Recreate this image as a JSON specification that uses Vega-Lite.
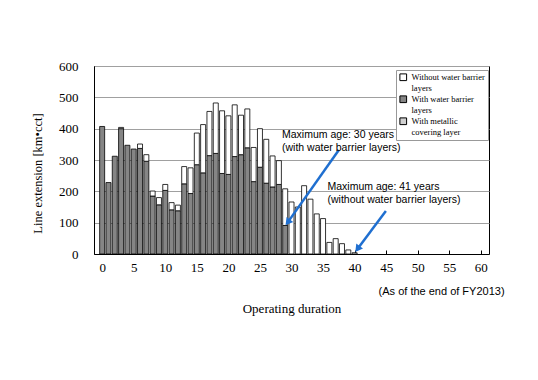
{
  "$schema": "https://vega.github.io/schema/vega-lite/v6.json",
  "width": 395,
  "height": 188,
  "autosize": "none",
  "padding": {"left": 94, "top": 66, "right": 49, "bottom": 126},
  "background": "white",
  "config": {
    "view": {"stroke": "black", "strokeWidth": 1},
    "axis": {"domainColor": "black", "labelColor": "black", "titleColor": "black", "titleFontWeight": "normal", "labelOverlap": false},
    "axisX": {
      "values": [0, 5, 10, 15, 20, 25, 30, 35, 40, 45, 50, 55, 60],
      "grid": false, "tickSize": -4, "tickColor": "black",
      "labelFont": "Liberation Serif", "labelFontSize": 13, "labelPadding": 11,
      "titleFont": "Liberation Serif", "titleFontSize": 13, "titlePadding": 28
    },
    "axisY": {
      "values": [0, 100, 200, 300, 400, 500, 600],
      "grid": true, "gridColor": "#a0a0a0", "ticks": false,
      "labelFont": "Liberation Serif", "labelFontSize": 13, "labelPadding": 16,
      "titleFont": "Liberation Serif", "titleFontSize": 12.5, "titlePadding": 14, "titleY": 107
    }
  },
  "datasets": {
    "bars": [
      {"age": 0, "type": "With water barrier layers", "km": 407},
      {"age": 1, "type": "With water barrier layers", "km": 228},
      {"age": 2, "type": "With water barrier layers", "km": 312},
      {"age": 3, "type": "With water barrier layers", "km": 400},
      {"age": 3, "type": "Without water barrier layers", "km": 4},
      {"age": 4, "type": "With water barrier layers", "km": 347},
      {"age": 5, "type": "With water barrier layers", "km": 335},
      {"age": 6, "type": "With water barrier layers", "km": 337},
      {"age": 6, "type": "Without water barrier layers", "km": 14},
      {"age": 7, "type": "With water barrier layers", "km": 296},
      {"age": 7, "type": "Without water barrier layers", "km": 21},
      {"age": 8, "type": "With water barrier layers", "km": 185},
      {"age": 8, "type": "Without water barrier layers", "km": 16},
      {"age": 9, "type": "With water barrier layers", "km": 157},
      {"age": 9, "type": "Without water barrier layers", "km": 23},
      {"age": 10, "type": "With water barrier layers", "km": 203},
      {"age": 10, "type": "Without water barrier layers", "km": 19},
      {"age": 11, "type": "With water barrier layers", "km": 141},
      {"age": 11, "type": "Without water barrier layers", "km": 23},
      {"age": 12, "type": "With water barrier layers", "km": 138},
      {"age": 12, "type": "Without water barrier layers", "km": 18},
      {"age": 13, "type": "With water barrier layers", "km": 224},
      {"age": 13, "type": "Without water barrier layers", "km": 55},
      {"age": 14, "type": "With water barrier layers", "km": 193},
      {"age": 14, "type": "Without water barrier layers", "km": 82},
      {"age": 15, "type": "With water barrier layers", "km": 285},
      {"age": 15, "type": "Without water barrier layers", "km": 101},
      {"age": 16, "type": "With water barrier layers", "km": 259},
      {"age": 16, "type": "Without water barrier layers", "km": 154},
      {"age": 17, "type": "With water barrier layers", "km": 314},
      {"age": 17, "type": "Without water barrier layers", "km": 141},
      {"age": 18, "type": "With water barrier layers", "km": 321},
      {"age": 18, "type": "Without water barrier layers", "km": 161},
      {"age": 19, "type": "With water barrier layers", "km": 257},
      {"age": 19, "type": "Without water barrier layers", "km": 200},
      {"age": 20, "type": "With water barrier layers", "km": 254},
      {"age": 20, "type": "Without water barrier layers", "km": 187},
      {"age": 21, "type": "With water barrier layers", "km": 311},
      {"age": 21, "type": "Without water barrier layers", "km": 165},
      {"age": 22, "type": "With water barrier layers", "km": 317},
      {"age": 22, "type": "Without water barrier layers", "km": 126},
      {"age": 23, "type": "With water barrier layers", "km": 339},
      {"age": 23, "type": "Without water barrier layers", "km": 124},
      {"age": 24, "type": "With water barrier layers", "km": 231},
      {"age": 24, "type": "Without water barrier layers", "km": 109},
      {"age": 25, "type": "With water barrier layers", "km": 277},
      {"age": 25, "type": "Without water barrier layers", "km": 123},
      {"age": 26, "type": "With water barrier layers", "km": 226},
      {"age": 26, "type": "Without water barrier layers", "km": 140},
      {"age": 27, "type": "With water barrier layers", "km": 214},
      {"age": 27, "type": "Without water barrier layers", "km": 99},
      {"age": 28, "type": "With water barrier layers", "km": 222},
      {"age": 28, "type": "Without water barrier layers", "km": 76},
      {"age": 29, "type": "With water barrier layers", "km": 91},
      {"age": 29, "type": "Without water barrier layers", "km": 117},
      {"age": 30, "type": "Without water barrier layers", "km": 166},
      {"age": 31, "type": "Without water barrier layers", "km": 150},
      {"age": 32, "type": "Without water barrier layers", "km": 218},
      {"age": 33, "type": "Without water barrier layers", "km": 175},
      {"age": 34, "type": "Without water barrier layers", "km": 128},
      {"age": 35, "type": "Without water barrier layers", "km": 113},
      {"age": 36, "type": "Without water barrier layers", "km": 37},
      {"age": 37, "type": "Without water barrier layers", "km": 49},
      {"age": 38, "type": "Without water barrier layers", "km": 33},
      {"age": 39, "type": "Without water barrier layers", "km": 13},
      {"age": 40, "type": "Without water barrier layers", "km": 4}
    ],
    "notes": [
      {"x": 28.5, "y": 381, "label": "Maximum age: 30 years"},
      {"x": 28.5, "y": 337, "label": "(with water barrier layers)"},
      {"x": 35.7, "y": 213, "label": "Maximum age: 41 years"},
      {"x": 35.7, "y": 173, "label": "(without water barrier layers)"}
    ],
    "footnote": [
      {"x": 43.8, "y": -122, "label": "(As of the end of FY2013)"}
    ],
    "arrows": [
      {"x0": 37.5, "y0": 332, "x1": 29.4, "y1": 101},
      {"x0": 44.95, "y0": 137, "x1": 40.45, "y1": 16}
    ]
  },
  "layer": [
    {
      "data": {"name": "bars"},
      "mark": {"type": "bar", "size": 5, "stroke": "black", "strokeWidth": 0.8},
      "encoding": {
        "x": {
          "field": "age", "type": "quantitative", "title": "Operating duration",
          "scale": {"domain": [-0.5, 60.5], "nice": false, "zero": false}
        },
        "y": {
          "field": "km", "type": "quantitative", "stack": "zero", "title": "Line extension [km•cct]",
          "scale": {"domain": [0, 600], "nice": false}
        },
        "order": {"field": "type", "sort": "ascending"},
        "color": {
          "field": "type", "type": "nominal",
          "scale": {
            "domain": ["Without water barrier layers", "With water barrier layers", "With metallic covering layer"],
            "range": ["#ffffff", "#858585", "#d0d0d0"]
          },
          "legend": {
            "title": null, "orient": "none", "legendX": 302, "legendY": 4,
            "fillColor": "white", "strokeColor": "#999999", "padding": 3,
            "symbolType": "square", "symbolSize": 45, "symbolStrokeColor": "black", "symbolStrokeWidth": 1,
            "labelFont": "Liberation Serif", "labelFontSize": 8.5, "labelColor": "black", "rowPadding": 0,
            "labelExpr": "datum.label == 'Without water barrier layers' ? ['Without water barrier', 'layers'] : datum.label == 'With water barrier layers' ? ['With water barrier', 'layers'] : ['With metallic', 'covering layer']"
          }
        }
      }
    },
    {
      "data": {"name": "arrows"},
      "mark": {"type": "rule", "color": "#1f6fd0", "strokeWidth": 2.5},
      "encoding": {
        "x": {"field": "x0", "type": "quantitative", "title": "Operating duration"},
        "y": {"field": "y0", "type": "quantitative", "title": "Line extension [km•cct]"},
        "x2": {"field": "x1"},
        "y2": {"field": "y1"}
      }
    },
    {
      "data": {"name": "arrows"},
      "mark": {"type": "point", "shape": "triangle-up", "angle": 217, "filled": true, "color": "#1f6fd0", "size": 70, "opacity": 1},
      "encoding": {
        "x": {"field": "x1", "type": "quantitative", "title": "Operating duration"},
        "y": {"field": "y1", "type": "quantitative", "title": "Line extension [km•cct]"}
      }
    },
    {
      "data": {"name": "notes"},
      "mark": {"type": "text", "align": "left", "baseline": "middle", "font": "Liberation Sans", "fontSize": 10.5, "color": "black"},
      "encoding": {
        "x": {"field": "x", "type": "quantitative", "title": "Operating duration"},
        "y": {"field": "y", "type": "quantitative", "title": "Line extension [km•cct]"},
        "text": {"field": "label"}
      }
    },
    {
      "data": {"name": "footnote"},
      "mark": {"type": "text", "align": "left", "baseline": "middle", "font": "Liberation Sans", "fontSize": 11, "color": "black"},
      "encoding": {
        "x": {"field": "x", "type": "quantitative", "title": "Operating duration"},
        "y": {"field": "y", "type": "quantitative", "title": "Line extension [km•cct]"},
        "text": {"field": "label"}
      }
    }
  ]
}
